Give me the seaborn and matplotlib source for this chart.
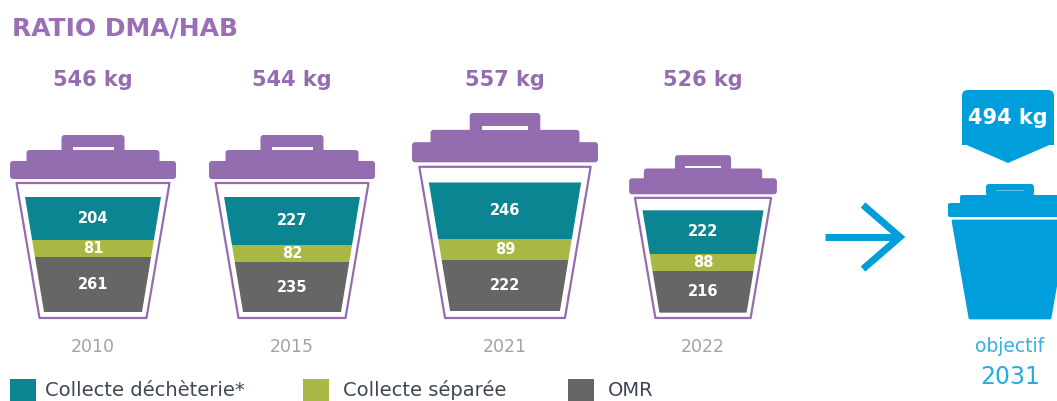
import numpy as np
import matplotlib
matplotlib.use("Agg")
import matplotlib.pyplot as plt
from matplotlib.patches import Polygon, FancyBboxPatch, Rectangle
import seaborn as sns

# data (kg per inhabitant)
years = ["2010", "2015", "2021", "2022"]
decheterie = [204, 227, 246, 222]
separee = [81, 82, 89, 88]
omr = [261, 235, 222, 216]
target_year = "2031"
target_total = 494
legend_labels = ["Collecte déchèterie*", "Collecte séparée", "OMR"]

# layout (pixels, y measured from the bottom)
centers = [93, 292, 505, 703]
bin_scale = [1.0, 1.0, 1.12, 0.89]
base = 83

teal = "#0b8592"
green = "#a9b844"
grey = "#666666"
purple = "#946cb0"
blue = "#009edb"

sns.set_theme(style="white")
plt.rcParams["font.family"] = ["DejaVu Sans"]

fig = plt.figure(figsize=(10.57, 4.01), dpi=100)
ax = fig.add_axes([0, 0, 1, 1])
ax.set_xlim(0, 1057)
ax.set_ylim(0, 401)
ax.set_axis_off()


def rbox(x0, y0, w, h, color, r=3):
    ax.add_patch(FancyBboxPatch((x0, y0), w, h,
                                boxstyle=f"round,pad=0,rounding_size={r}",
                                fc=color, ec="none"))


for i, yr in enumerate(years):
    cx, s = centers[i], bin_scale[i]
    vals = [omr[i], separee[i], decheterie[i]]
    cols = [grey, green, teal]
    total = sum(vals)

    # content area (trapezoid) used as clip for the stacked bars
    y0 = base + 6 * s
    H = 115 * s
    clip = Polygon([(cx - 49 * s, y0), (cx + 49 * s, y0),
                    (cx + 68 * s, y0 + H), (cx - 68 * s, y0 + H)],
                   closed=True, transform=ax.transData)
    bottom = y0
    for v, c in zip(vals, cols):
        h = v / total * H
        bars = ax.bar(cx, h, bottom=bottom, width=150 * s, color=c,
                      edgecolor="none")
        for b in bars:
            b.set_clip_path(clip)
        ax.text(cx, bottom + h / 2, str(v), color="white", fontsize=10.5,
                fontweight="bold", ha="center", va="center")
        bottom += h

    # bin outline
    ax.add_patch(Polygon([(cx - 53.5 * s, base), (cx + 53.5 * s, base),
                          (cx + 76.5 * s, base + 135 * s),
                          (cx - 76.5 * s, base + 135 * s)],
                         closed=True, fill=False, ec=purple, lw=1.6,
                         joinstyle="round"))
    # lid
    rbox(cx - 83 * s, base + 139 * s, 166 * s, 18 * s, purple)
    rbox(cx - 66.5 * s, base + 154 * s, 133 * s, 14 * s, purple)
    rbox(cx - 31.5 * s, base + 165 * s, 63 * s, 18 * s, purple)
    ax.add_patch(Rectangle((cx - 20.5 * s, base + 168 * s), 41 * s, 3 * s,
                           fc="white", ec="none"))

    ax.text(cx, 321, f"{total} kg", color=purple, fontsize=15,
            fontweight="bold", ha="center", va="center")
    ax.text(cx, 54, yr, color="#a3a3a3", fontsize=12.5,
            ha="center", va="center")

# arrow
ax.plot([825, 898], [164, 164], color=blue, lw=5, solid_capstyle="butt")
ax.plot([863, 900, 863], [196, 164, 132], color=blue, lw=5,
        solid_capstyle="butt", solid_joinstyle="miter")

# target bin
tx = 1010
ax.add_patch(Polygon([(tx - 40, base), (tx + 40, base), (tx + 57, 180),
                      (tx - 57, 180)], closed=True, fc=blue, ec=blue,
                     lw=2, joinstyle="round"))
rbox(tx - 62, 184, 124, 14, blue, r=2)
rbox(tx - 50, 196, 100, 10, blue, r=2)
rbox(tx - 24, 205, 48, 12, blue, r=3)
ax.add_patch(Rectangle((tx - 14, 210), 28, 1.5, fc="#5fc0ea", ec="none"))

# target label tag
rbox(962, 256, 92, 55, blue, r=6)
ax.add_patch(Rectangle((962, 256), 92, 20, fc=blue, ec="none"))
ax.add_patch(Polygon([(962, 258), (1054, 258), (1008, 238)], closed=True,
                     fc=blue, ec="none"))
ax.text(1008, 283, f"{target_total} kg", color="white", fontsize=15,
        fontweight="bold", ha="center", va="center")
ax.text(tx, 54, "objectif", color=blue, fontsize=13.5, ha="center",
        va="center", alpha=0.8)
ax.text(tx, 24, target_year, color=blue, fontsize=17, ha="center",
        va="center", alpha=0.85)

# title
ax.text(12, 372, "RATIO DMA/HAB", color="#9a6fb7", fontsize=18,
        fontweight="bold", ha="left", va="center")

# legend
leg_x = [10, 303, 568]
leg_text_x = [45, 343, 608]
for lx, tx_, lab, c in zip(leg_x, leg_text_x, legend_labels,
                           [teal, green, grey]):
    ax.add_patch(Rectangle((lx, 0), 26, 22, fc=c, ec="none"))
    ax.text(tx_, 1, lab, color="#3e4656", fontsize=14, ha="left",
            va="bottom")

fig.savefig("out.png", dpi=100)
